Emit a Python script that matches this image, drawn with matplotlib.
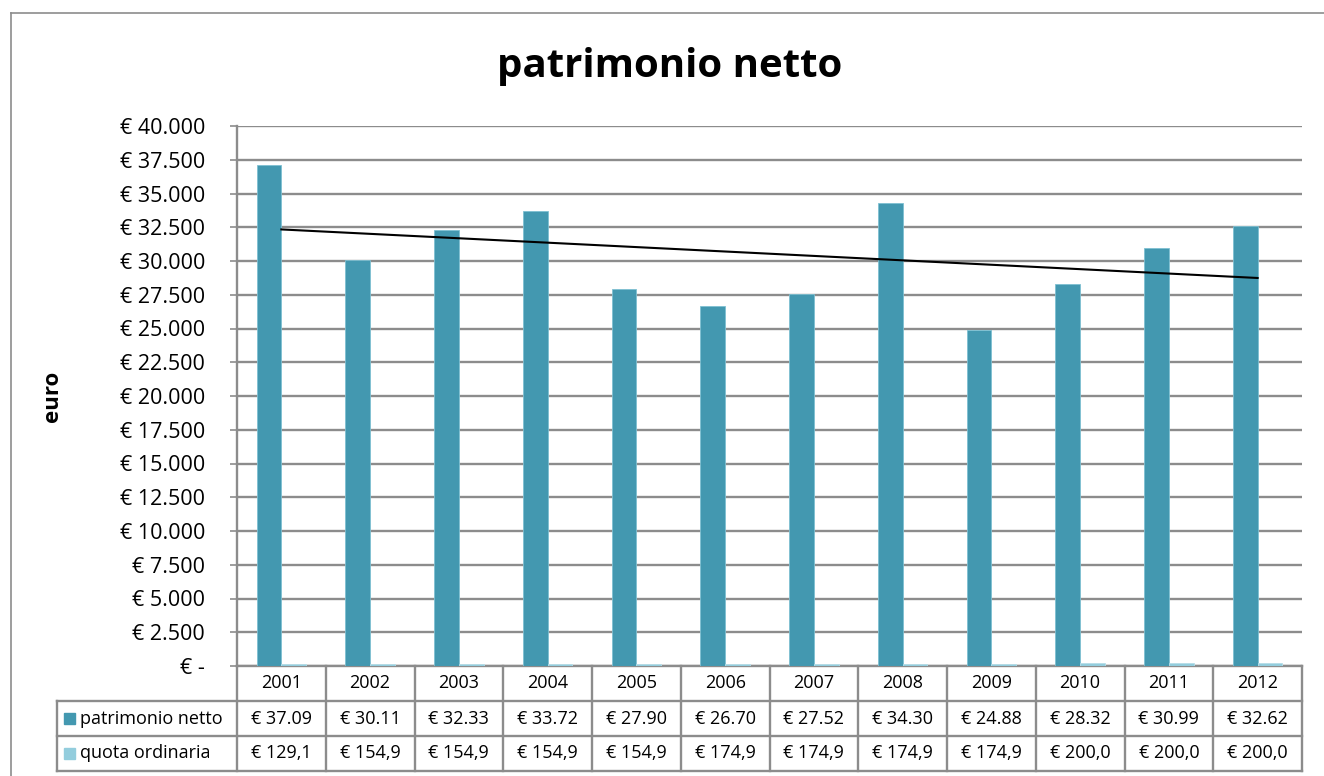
import numpy as np
import matplotlib
matplotlib.use("Agg")
import matplotlib.pyplot as plt
from matplotlib.lines import Line2D
from matplotlib.patches import Rectangle
from matplotlib.ticker import FuncFormatter

plt.rcParams['font.family'] = ['Open Sans', 'DejaVu Sans']

years = ['2001', '2002', '2003', '2004', '2005', '2006',
         '2007', '2008', '2009', '2010', '2011', '2012']
patrimonio = [37090, 30110, 32330, 33720, 27900, 26700,
              27520, 34300, 24880, 28320, 30990, 32620]
quota = [129.1, 154.9, 154.9, 154.9, 154.9, 174.9,
         174.9, 174.9, 174.9, 200.0, 200.0, 200.0]
patrimonio_labels = ['€ 37.09', '€ 30.11', '€ 32.33', '€ 33.72', '€ 27.90', '€ 26.70',
                     '€ 27.52', '€ 34.30', '€ 24.88', '€ 28.32', '€ 30.99', '€ 32.62']
quota_labels = ['€ 129,1', '€ 154,9', '€ 154,9', '€ 154,9', '€ 154,9', '€ 174,9',
                '€ 174,9', '€ 174,9', '€ 174,9', '€ 200,0', '€ 200,0', '€ 200,0']

col_pat = '#4398b0'
col_quo = '#93cddd'
grid_col = '#8c8c8c'

W, H = 1324, 776
fig = plt.figure(figsize=(W / 100, H / 100), dpi=100)

# outer chart border
fig.add_artist(Line2D([11 / W, 11 / W], [0, 1 - 13 / H], color=grid_col, lw=1.2))
fig.add_artist(Line2D([11 / W, 1], [1 - 13 / H, 1 - 13 / H], color=grid_col, lw=1.2))

x0, x1, ytop, ybot = 237, 1302, 126, 666
ax = fig.add_axes([x0 / W, 1 - ybot / H, (x1 - x0) / W, (ybot - ytop) / H])

x = np.arange(len(years))
bw = 0.28
ax.bar(x - bw / 2, patrimonio, bw, color=col_pat, edgecolor='#7ec0d2', lw=0.6, zorder=3)
ax.bar(x + bw / 2, quota, bw, color=col_quo, edgecolor='#b6dde8', lw=0.6, zorder=3)

# linear trendline of patrimonio netto
coef = np.polyfit(x, patrimonio, 1)
ax.plot(x, np.polyval(coef, x), color='black', lw=1.5, zorder=4)

ax.set_xlim(-0.5, len(years) - 0.5)
ax.set_ylim(0, 40000)
ax.set_yticks(np.arange(0, 40001, 2500))


def euro(v, pos):
    if v == 0:
        return '€ -'
    return '€ ' + f'{int(v):,}'.replace(',', '.')


ax.yaxis.set_major_formatter(FuncFormatter(euro))
ax.tick_params(axis='y', length=5, width=1.2, color=grid_col, pad=18, labelsize=15.5)
ax.set_xticks([])
ax.grid(axis='y', color=grid_col, lw=1.7, zorder=0)
for s in ['top', 'right', 'bottom']:
    ax.spines[s].set_visible(False)
ax.spines['left'].set_color(grid_col)
ax.spines['left'].set_linewidth(1.7)

ax.set_ylabel('euro', fontsize=16, fontweight='bold')
ax.yaxis.set_label_coords(-0.163, 0.5)
fig.suptitle('patrimonio netto', x=(W / 2 + 8) / W, y=1 - 66 / H, va='center',
             fontsize=29, fontweight='bold')

# data table below the plot
tr = ax.get_xaxis_transform()
rh = 35 / (ybot - ytop)
rows_y = [0, -rh, -2 * rh, -3 * rh]
lab_left = (57 - x0) / (x1 - x0)
axt = ax.transAxes

for b in np.arange(-0.5, len(years), 1.0):
    ax.add_line(Line2D([b, b], [0, rows_y[3]], transform=tr, color=grid_col, lw=1.7, clip_on=False))
ax.add_line(Line2D([0, 1], [0, 0], transform=axt, color=grid_col, lw=1.7, clip_on=False))
for yy in rows_y[1:]:
    ax.add_line(Line2D([lab_left, 1], [yy, yy], transform=axt, color=grid_col, lw=1.7, clip_on=False))
ax.add_line(Line2D([lab_left, lab_left], [rows_y[1], rows_y[3]], transform=axt,
                   color=grid_col, lw=1.7, clip_on=False))

for i in range(len(years)):
    ax.text(x[i], -rh / 2, years[i], transform=tr, ha='center', va='center', fontsize=13)
    ax.text(x[i], -1.5 * rh, patrimonio_labels[i], transform=tr, ha='center', va='center', fontsize=13)
    ax.text(x[i], -2.5 * rh, quota_labels[i], transform=tr, ha='center', va='center', fontsize=13)

sq = 11
for k, (name, col) in enumerate([('patrimonio netto', col_pat), ('quota ordinaria', col_quo)]):
    cy = 1 - (ybot + 35 * (k + 1) + 17.5) / H
    fig.add_artist(Rectangle((64 / W, cy - sq / 2 / H), sq / W, sq / H, color=col))
    fig.text(80 / W, cy, name, ha='left', va='center', fontsize=13)

fig.savefig('out.png', dpi=100)
